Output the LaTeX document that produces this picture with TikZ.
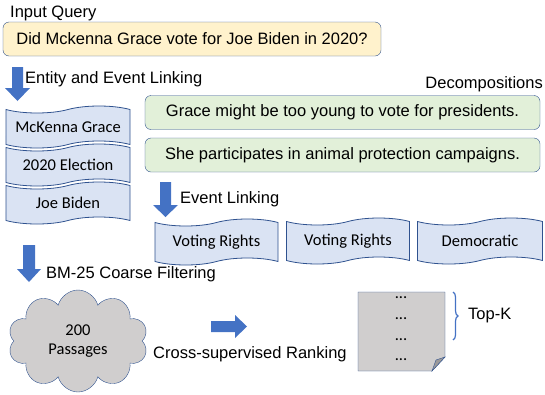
\documentclass[tikz,border=0pt]{standalone}
\usepackage{fontspec}
\setmainfont{Liberation Sans}
\newfontfamily\calibri{Carlito}
\usepackage{tikz}
\usetikzlibrary{shapes.symbols, positioning, decorations.pathreplacing}
\definecolor{arrowblue}{HTML}{4472C4}
\definecolor{edgeblue}{HTML}{2F528F}
\definecolor{queryfill}{HTML}{FFF2CC}
\definecolor{decompfill}{HTML}{E2F0D9}
\definecolor{tapefill}{HTML}{DAE3F3}
\definecolor{greyfill}{HTML}{D0CECE}

\begin{document}
\begin{tikzpicture}[
    x=1pt, y=-1pt,
    every node/.style={font=\fontsize{16.5}{19.8}\selectfont},
    caption/.style={inner sep=0pt, anchor=base west},
    querybox/.style={draw=edgeblue, fill=queryfill, rounded corners=6pt, minimum width=378pt, minimum height=34pt, inner sep=0pt},
    decomp/.style={draw=edgeblue, fill=decompfill, rounded corners=6pt, minimum width=395pt, minimum height=34pt, inner sep=0pt},
    linked/.style={tape, draw=edgeblue, line width=0.8pt, fill=tapefill, tape bend top=in and out, tape bend bottom=in and out, tape bend height=7pt, minimum width=124pt, minimum height=42pt, inner sep=0pt, font=\calibri\fontsize{16.5}{19.8}\selectfont},
    blockarrow/.style={fill=arrowblue},
    passages/.style={cloud, cloud puffs=10, aspect=1.4, draw=edgeblue, fill=greyfill, minimum width=140pt, minimum height=102pt, align=center, font=\calibri\fontsize{16.5}{19.8}\selectfont},
    dots/.style={inner sep=0pt, font=\calibri\fontsize{16.5}{19.8}\selectfont},
    topbrace/.style={draw=arrowblue, line width=1.2pt, decorate, decoration={brace, amplitude=5pt}}
]
    \useasboundingbox (0,0) rectangle (545,394);

    % Query
    \node[caption] (inlabel) at (10,17) {Input Query};
    \node[querybox] (query) at (192,39) {Did Mckenna Grace vote for Joe Biden in 2020?};

    % Entity and event linking
    \fill[blockarrow] (12,67) -- (23,67) -- (23,88) -- (30,88) -- (17.5,101) -- (5,88) -- (12,88) -- cycle;
    \node[caption] (entlabel) at (25,83) {Entity and Event Linking};
    \node[linked] (mckenna) at (68,127) {McKenna Grace};
    \node[linked] (election) at (68,165) {2020 Election};
    \node[linked] (biden) at (68,203) {Joe Biden};

    % Decompositions
    \node[caption, anchor=base east] (declabel) at (543,88) {Decompositions};
    \node[decomp] (decA) at (342.5,112.5) {Grace might be too young to vote for presidents.};
    \node[decomp] (decB) at (342.5,155) {She participates in animal protection campaigns.};

    \fill[blockarrow] (160,182) -- (171,182) -- (171,205) -- (178,205) -- (165.5,217) -- (153,205) -- (160,205) -- cycle;
    \node[caption] (evlabel) at (180,203) {Event Linking};
    \node[linked, minimum width=123pt, minimum height=46pt] (votingA) at (216.5,242) {Voting Rights};
    \node[linked, minimum width=123pt, minimum height=46pt] (votingB) at (348,241) {Voting Rights};
    \node[linked, minimum width=125pt, minimum height=46pt] (democ) at (480,241) {Democratic};

    % Filtering and ranking
    \fill[blockarrow] (23,245) -- (35,245) -- (35,269) -- (41,269) -- (29,282) -- (17,269) -- (23,269) -- cycle;
    \node[caption] (bmlabel) at (46,278) {BM-25 Coarse Filtering};
    \node[passages] (cloud) at (78,341) {200\\Passages};

    \fill[blockarrow] (211,321) -- (235,321) -- (235,315) -- (247,326.5) -- (235,338) -- (235,332) -- (211,332) -- cycle;
    \node[caption] (ranklabel) at (153,358) {Cross-supervised Ranking};

    \draw[edgeblue, fill=greyfill] (358,292) -- (445,292) -- (445,357) -- (432,371) -- (358,371) -- cycle;
    \draw[edgeblue, fill=greyfill!75!black] (432,371) -- (436,360) -- (445,357) -- cycle;
    \foreach \y/\n in {298/1, 319/2, 340/3, 360/4}
        \node[dots] (dot\n) at (401,\y) {...};

    \coordinate (topA) at (453,292);
    \coordinate (topB) at (453,340);
    \draw[topbrace] (topA) -- (topB);
    \node[caption, anchor=west] (topk) at (468,316) {Top-K};
\end{tikzpicture}
\end{document}
